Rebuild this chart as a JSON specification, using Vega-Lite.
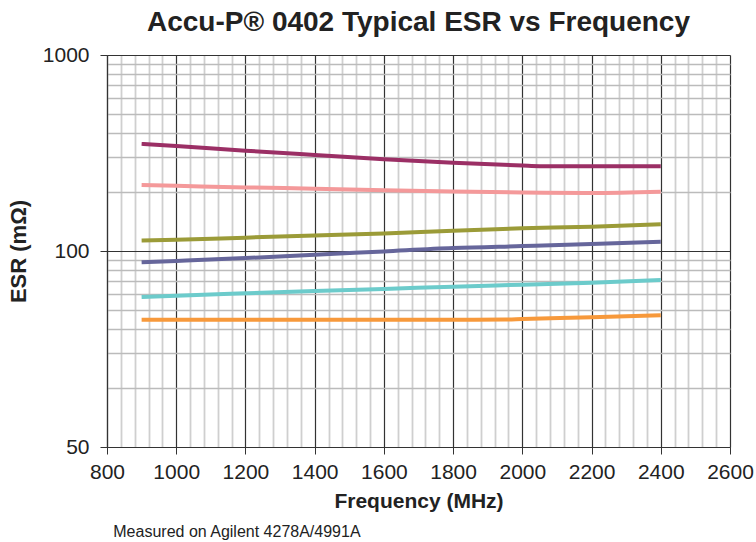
{
  "$schema": "https://vega.github.io/schema/vega-lite/v6.json",
  "background": "white",
  "padding": {"left": 7, "top": 9, "right": 2, "bottom": 0},
  "config": {"view": {"stroke": null}, "font": "Liberation Sans"},
  "title": {"text": "Measured on Agilent 4278A/4991A", "orient": "bottom", "anchor": "start", "fontSize": 16, "fontWeight": "normal", "font": "Liberation Sans", "color": "#222222", "offset": 13, "dx": 106},
  "vconcat": [
    {
      "width": 623,
      "height": 392,
      "title": {"text": "Accu-P® 0402 Typical ESR vs Frequency", "fontSize": 28, "fontWeight": "bold", "font": "Liberation Sans", "anchor": "middle", "frame": "group", "offset": 7, "color": "#222222"},
      "data": {
        "values": [
          {"series": "S1", "freq": 900, "esr": 352}, {"series": "S1", "freq": 1000, "esr": 343}, {"series": "S1", "freq": 1200, "esr": 325}, {"series": "S1", "freq": 1400, "esr": 309}, {"series": "S1", "freq": 1600, "esr": 294}, {"series": "S1", "freq": 1800, "esr": 282}, {"series": "S1", "freq": 2000, "esr": 273}, {"series": "S1", "freq": 2050, "esr": 271}, {"series": "S1", "freq": 2200, "esr": 271}, {"series": "S1", "freq": 2400, "esr": 271},
          {"series": "S2", "freq": 900, "esr": 217}, {"series": "S2", "freq": 1000, "esr": 215}, {"series": "S2", "freq": 1200, "esr": 211}, {"series": "S2", "freq": 1400, "esr": 208}, {"series": "S2", "freq": 1600, "esr": 204}, {"series": "S2", "freq": 1800, "esr": 201}, {"series": "S2", "freq": 2000, "esr": 199}, {"series": "S2", "freq": 2200, "esr": 197.5}, {"series": "S2", "freq": 2400, "esr": 200.5},
          {"series": "S3", "freq": 900, "esr": 113}, {"series": "S3", "freq": 1000, "esr": 114}, {"series": "S3", "freq": 1200, "esr": 117}, {"series": "S3", "freq": 1400, "esr": 120}, {"series": "S3", "freq": 1600, "esr": 123}, {"series": "S3", "freq": 1800, "esr": 127}, {"series": "S3", "freq": 2000, "esr": 130.5}, {"series": "S3", "freq": 2200, "esr": 133}, {"series": "S3", "freq": 2400, "esr": 137},
          {"series": "S4", "freq": 900, "esr": 87.6}, {"series": "S4", "freq": 1000, "esr": 89}, {"series": "S4", "freq": 1200, "esr": 92}, {"series": "S4", "freq": 1400, "esr": 95.6}, {"series": "S4", "freq": 1600, "esr": 99.5}, {"series": "S4", "freq": 1800, "esr": 103.5}, {"series": "S4", "freq": 2000, "esr": 106}, {"series": "S4", "freq": 2200, "esr": 108.6}, {"series": "S4", "freq": 2400, "esr": 111.5},
          {"series": "S5", "freq": 900, "esr": 58.2}, {"series": "S5", "freq": 1000, "esr": 59.1}, {"series": "S5", "freq": 1200, "esr": 60.8}, {"series": "S5", "freq": 1400, "esr": 62.5}, {"series": "S5", "freq": 1600, "esr": 64}, {"series": "S5", "freq": 1800, "esr": 65.8}, {"series": "S5", "freq": 2000, "esr": 67.3}, {"series": "S5", "freq": 2200, "esr": 68.9}, {"series": "S5", "freq": 2400, "esr": 71.1},
          {"series": "S6", "freq": 900, "esr": 44.6}, {"series": "S6", "freq": 1000, "esr": 44.6}, {"series": "S6", "freq": 1200, "esr": 44.6}, {"series": "S6", "freq": 1400, "esr": 44.6}, {"series": "S6", "freq": 1600, "esr": 44.6}, {"series": "S6", "freq": 1800, "esr": 44.6}, {"series": "S6", "freq": 1950, "esr": 44.7}, {"series": "S6", "freq": 2000, "esr": 45.0}, {"series": "S6", "freq": 2200, "esr": 45.9}, {"series": "S6", "freq": 2400, "esr": 47.0}
        ]
      },
      "mark": {"type": "line", "strokeWidth": 4, "interpolate": "monotone", "strokeCap": "butt"},
      "encoding": {
        "x": {
          "field": "freq", "type": "quantitative",
          "scale": {"domain": [800, 2600], "nice": false, "zero": false},
          "axis": {
            "title": "Frequency (MHz)",
            "values": [800, 840, 880, 920, 960, 1000, 1040, 1080, 1120, 1160, 1200, 1240, 1280, 1320, 1360, 1400, 1440, 1480, 1520, 1560, 1600, 1640, 1680, 1720, 1760, 1800, 1840, 1880, 1920, 1960, 2000, 2040, 2080, 2120, 2160, 2200, 2240, 2280, 2320, 2360, 2400, 2440, 2480, 2520, 2560, 2600],
            "format": "d",
            "labelExpr": "datum.value % 200 === 0 ? datum.label : ''",
            "labelOverlap": false, "labelFlush": false,
            "labelFontSize": 21, "labelColor": "#222222", "labelPadding": 7,
            "titleFontSize": 21, "titleFontWeight": "bold", "titleColor": "#222222", "titlePadding": 8,
            "grid": true,
            "gridColor": {"condition": {"test": "datum.value % 200 === 0", "value": "#333333"}, "value": "#cfcfcf"},
            "gridWidth": {"condition": {"test": "datum.value % 200 === 0", "value": 1.2}, "value": 1.8},
            "tickSize": 7,
            "tickColor": {"condition": {"test": "datum.value % 200 === 0", "value": "#333333"}, "value": "transparent"},
            "domainColor": "#333333", "domainWidth": 1.2
          }
        },
        "y": {
          "field": "esr", "type": "quantitative",
          "scale": {"type": "log", "domain": [10, 1000], "nice": false},
          "axis": {
            "title": "ESR (mΩ)",
            "values": [10, 20, 30, 40, 50, 60, 70, 80, 90, 100, 200, 300, 400, 500, 600, 700, 800, 900, 1000],
            "format": "d",
            "labelExpr": "datum.value == 10 ? '50' : ((datum.value == 100 || datum.value == 1000) ? datum.label : '')",
            "labelOverlap": false, "labelFlush": false,
            "labelFontSize": 21, "labelColor": "#222222", "labelPadding": 11,
            "titleFontSize": 22, "titleFontWeight": "bold", "titleColor": "#222222", "titlePadding": 12,
            "grid": true,
            "gridColor": {"condition": {"test": "datum.value == 10 || datum.value == 100 || datum.value == 1000", "value": "#333333"}, "value": "#bbbbbb"},
            "gridWidth": {"condition": {"test": "datum.value == 10 || datum.value == 100 || datum.value == 1000", "value": 1.2}, "value": 1.5},
            "tickSize": 7,
            "tickColor": {"condition": {"test": "datum.value == 10 || datum.value == 100 || datum.value == 1000", "value": "#333333"}, "value": "transparent"},
            "domainColor": "#333333", "domainWidth": 1.2
          }
        },
        "color": {
          "field": "series", "type": "nominal",
          "scale": {"domain": ["S1", "S2", "S3", "S4", "S5", "S6"], "range": ["#9b2f65", "#f4999a", "#9b9b38", "#66669b", "#6ccbcb", "#f7993b"]},
          "legend": null
        }
      }
    }
  ]
}
